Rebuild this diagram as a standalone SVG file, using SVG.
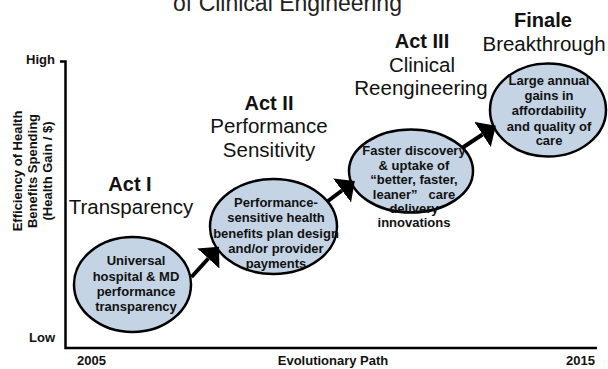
<svg xmlns="http://www.w3.org/2000/svg" width="608" height="369" viewBox="0 0 608 369">
<defs>
<style>
text{font-family:"Liberation Sans",Arial,sans-serif;fill:#111;}
.ax{font-size:13px;font-weight:bold;}
.act{font-size:20px;font-weight:bold;text-anchor:middle;}
.sub{font-size:20.5px;text-anchor:middle;}
.nt{font-size:13px;font-weight:bold;text-anchor:middle;white-space:pre;}
.node ellipse{fill:#c4d4e4;stroke:#000;stroke-width:2.5;}
.axis{stroke:#000;stroke-width:2.5;fill:none;}
.conn line{stroke:#000;stroke-width:4;}
</style>
<marker id="ah" markerUnits="userSpaceOnUse" viewBox="0 0 16 30" refX="0" refY="15" markerWidth="16" markerHeight="30" orient="auto">
<path d="M0,0 L16,15 L0,30 z" fill="#000"/>
</marker>
</defs>
<rect width="608" height="369" fill="#fff"/>
<text x="287.5" y="11" style="font-size:23px;fill:#222;" text-anchor="middle">of Clinical Engineering</text>

<g id="axes">
<path class="axis" d="M60,61.5 H65.5 V348 H597"/>
<text class="ax" x="55" y="63.5" text-anchor="end">High</text>
<text class="ax" x="55" y="342" text-anchor="end">Low</text>
<text class="ax" x="77" y="365">2005</text>
<text class="ax" x="333" y="365" text-anchor="middle">Evolutionary Path</text>
<text class="ax" x="595" y="365" text-anchor="end">2015</text>
<text class="ax" transform="translate(21.5,171) rotate(-90)" text-anchor="middle"><tspan x="0" y="0">Efficiency of Health</tspan><tspan x="0" y="15">Benefits Spending</tspan><tspan x="0" y="30">(Health Gain / $)</tspan></text>
</g>

<g id="labels">
<text class="act" x="130" y="191">Act I</text>
<text class="sub" x="131" y="214">Transparency</text>
<text class="act" x="269" y="110">Act II</text>
<text class="sub" x="269" y="133">Performance</text>
<text class="sub" x="269" y="157">Sensitivity</text>
<text class="act" x="422" y="48">Act III</text>
<text class="sub" x="422" y="72">Clinical</text>
<text class="sub" x="421" y="95">Reengineering</text>
<text class="act" x="543" y="27">Finale</text>
<text class="sub" x="544" y="51">Breakthrough</text>
</g>

<g id="node1" class="node">
<ellipse cx="132.5" cy="284.5" rx="58.5" ry="47.5"/>
<text class="nt"><tspan x="136" y="265">Universal</tspan><tspan x="136" y="281">hospital &amp; MD</tspan><tspan x="136" y="296">performance</tspan><tspan x="136" y="311">transparency</tspan></text>
</g>

<g id="node2" class="node">
<ellipse cx="273.5" cy="226.5" rx="63.5" ry="47.5"/>
<text class="nt"><tspan x="276" y="207">Performance-</tspan><tspan x="276" y="222">sensitive health</tspan><tspan x="276" y="238">benefits plan design</tspan><tspan x="276" y="253">and/or provider</tspan><tspan x="276" y="268">payments</tspan></text>
</g>

<g id="node3" class="node">
<ellipse cx="411" cy="171" rx="62" ry="41.5"/>
<text class="nt"><tspan x="414" y="155">Faster discovery</tspan><tspan x="414" y="169.5">&amp; uptake of</tspan><tspan x="414" y="184">“better, faster,</tspan><tspan x="414" y="198.5">leaner”   care</tspan><tspan x="414" y="213">delivery</tspan><tspan x="414" y="227">innovations</tspan></text>
</g>

<g id="node4" class="node">
<ellipse cx="548" cy="110" rx="58" ry="46.5"/>
<text class="nt"><tspan x="549" y="85">Large annual</tspan><tspan x="549" y="100">gains in</tspan><tspan x="549" y="115">affordability</tspan><tspan x="549" y="131">and quality of</tspan><tspan x="549" y="145">care</tspan></text>
</g>

<g id="connectors" class="conn">
<line x1="191.5" y1="277" x2="208.3" y2="258.5" marker-end="url(#ah)"/>
<line x1="328" y1="201" x2="342" y2="190.5" marker-end="url(#ah)"/>
<line x1="462" y1="148" x2="482.5" y2="134.5" marker-end="url(#ah)"/>
</g>
</svg>
